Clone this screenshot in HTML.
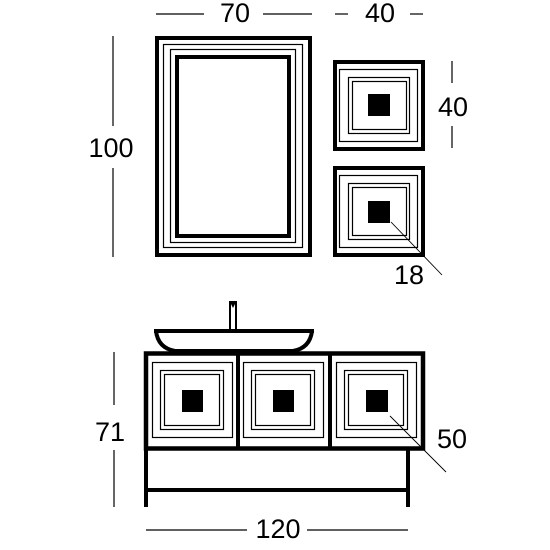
<!DOCTYPE html>
<html><head><meta charset="utf-8"><style>
html,body{margin:0;padding:0;background:#fff;}
svg{display:block;}
text{font-family:"Liberation Sans",sans-serif;font-size:27px;fill:#000;text-anchor:middle;}
</style></head><body>
<svg width="550" height="550" viewBox="0 0 550 550">
<g fill="none" stroke="#000">
  <rect x="157" y="38" width="153" height="217" stroke-width="4"/>
  <rect x="163.5" y="44.5" width="139" height="203" stroke-width="1.2"/>
  <rect x="170.5" y="49.5" width="125" height="193" stroke-width="1.2"/>
  <rect x="177" y="57" width="112" height="179" stroke-width="4"/>
</g>
<g>
  <g fill="none" stroke="#000">
    <rect x="335" y="62" width="88" height="87" stroke-width="4"/>
    <rect x="339.5" y="69.5" width="78" height="72" stroke-width="1.2"/>
    <rect x="348.5" y="77.5" width="61" height="56" stroke-width="1.2"/>
    <rect x="352.5" y="81.5" width="54" height="48" stroke-width="1.2"/>
  </g>
  <rect x="368" y="94" width="22" height="22" fill="#000"/>
</g>
<g>
  <g fill="none" stroke="#000">
    <rect x="335" y="168" width="88" height="87" stroke-width="4"/>
    <rect x="339.5" y="175.5" width="78" height="72" stroke-width="1.2"/>
    <rect x="348.5" y="183.5" width="61" height="56" stroke-width="1.2"/>
    <rect x="352.5" y="187.5" width="54" height="48" stroke-width="1.2"/>
  </g>
  <rect x="368" y="201" width="22" height="22" fill="#000"/>
</g>
<g stroke="#000" fill="none">
  <rect x="230" y="302" width="6" height="28" stroke-width="2"/>
  <polygon points="230,302 236,302 233,308" fill="#000" stroke="none"/>
  <path d="M154,331 L314,331 M156,331 Q158,348 175,351 L293,351 Q310,348 312,331" stroke-width="4" fill="#fff"/>
</g>
<g stroke="#000" fill="none">
  <rect x="146" y="353.5" width="277" height="95" stroke-width="4.5"/>
  <line x1="238" y1="353" x2="238" y2="448" stroke-width="4"/>
  <line x1="330" y1="353" x2="330" y2="448" stroke-width="4"/>
  <line x1="146" y1="448" x2="146" y2="507" stroke-width="4"/>
  <line x1="408" y1="448" x2="408" y2="507" stroke-width="4"/>
  <line x1="146" y1="490" x2="408" y2="490" stroke-width="4"/>
</g>
<g>
  <g fill="none" stroke="#000" stroke-width="1.2">
    <rect x="152.5" y="362.5" width="80" height="75"/>
    <rect x="160.5" y="370.5" width="63" height="59"/>
    <rect x="164.5" y="374.5" width="55" height="51"/>
  </g>
  <rect x="182" y="390" width="21" height="22" fill="#000"/>
</g>
<g>
  <g fill="none" stroke="#000" stroke-width="1.2">
    <rect x="243.5" y="362.5" width="80" height="75"/>
    <rect x="251.5" y="370.5" width="63" height="59"/>
    <rect x="255.5" y="374.5" width="55" height="51"/>
  </g>
  <rect x="273" y="390" width="21" height="22" fill="#000"/>
</g>
<g>
  <g fill="none" stroke="#000" stroke-width="1.2">
    <rect x="336.5" y="362.5" width="80" height="75"/>
    <rect x="344.5" y="370.5" width="63" height="59"/>
    <rect x="348.5" y="374.5" width="55" height="51"/>
  </g>
  <rect x="366" y="390" width="22" height="22" fill="#000"/>
</g>
<g stroke="#000" stroke-width="1.2">
  <line x1="156" y1="14" x2="204" y2="14"/><line x1="263" y1="14" x2="312" y2="14"/>
  <line x1="335" y1="14" x2="348" y2="14"/><line x1="410" y1="14" x2="423" y2="14"/>
  <line x1="113" y1="36" x2="113" y2="126"/><line x1="113" y1="168" x2="113" y2="257"/>
  <line x1="452" y1="61" x2="452" y2="83"/><line x1="452" y1="126" x2="452" y2="148"/>
  <line x1="391" y1="222" x2="442" y2="275" stroke-width="0.9"/>
  <line x1="114" y1="352" x2="114" y2="405"/><line x1="114" y1="450" x2="114" y2="507"/>
  <line x1="390" y1="416" x2="446" y2="472" stroke-width="0.9"/>
  <line x1="146" y1="530" x2="247" y2="530"/><line x1="307" y1="530" x2="408" y2="530"/>
</g>
<text x="235" y="22">70</text>
<text x="380" y="22">40</text>
<text x="111" y="157">100</text>
<text x="453" y="116">40</text>
<text x="409" y="284">18</text>
<text x="110" y="441">71</text>
<text x="452" y="448">50</text>
<text x="278" y="538">120</text>
</svg>
</body></html>
